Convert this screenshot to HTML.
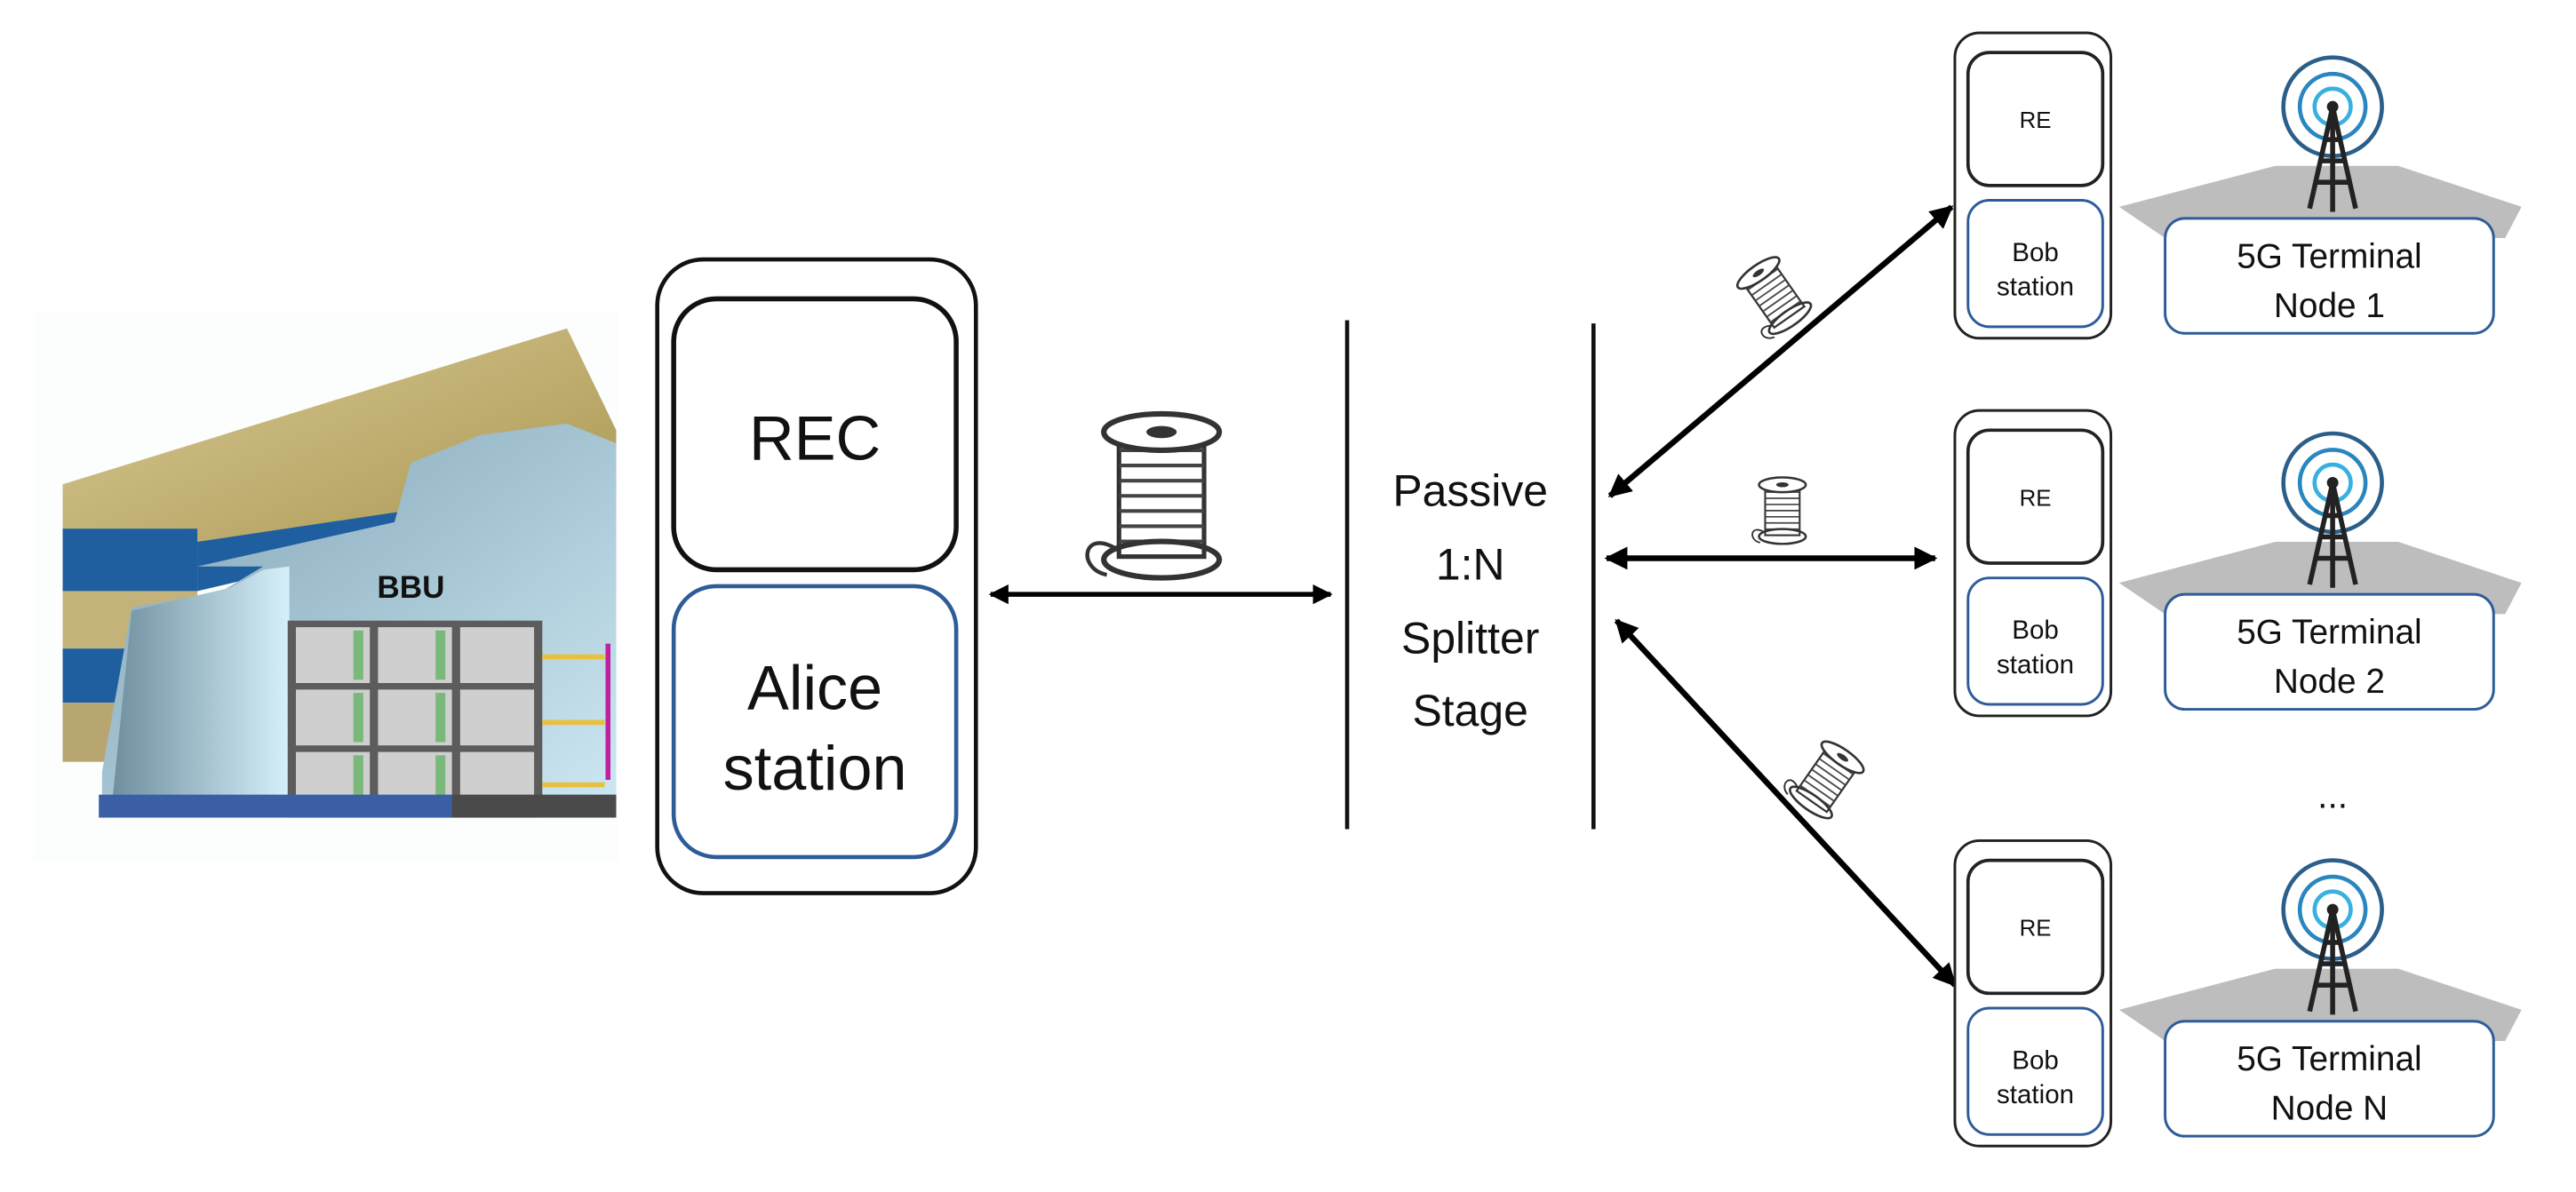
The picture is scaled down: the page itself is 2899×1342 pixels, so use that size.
<!DOCTYPE html>
<html><head><meta charset="utf-8"><style>html,body{margin:0;padding:0;background:#fff}svg{display:block}text{font-family:"Liberation Sans",sans-serif;text-anchor:middle;fill:#111}</style></head>
<body>
<svg width="2899" height="1342" viewBox="0 0 1568 726" xmlns="http://www.w3.org/2000/svg">
<defs>
<linearGradient id="gold" x1="0" y1="0" x2="1" y2="1"><stop offset="0" stop-color="#d9cb95"/><stop offset="1" stop-color="#a8944f"/></linearGradient>
<linearGradient id="lb" x1="0" y1="0" x2="1" y2="1"><stop offset="0" stop-color="#7fa2b4"/><stop offset="1" stop-color="#cde8f3"/></linearGradient>
<linearGradient id="lb2" x1="0" y1="0" x2="1" y2="0"><stop offset="0" stop-color="#6f8f9f"/><stop offset="1" stop-color="#d5f0fa"/></linearGradient>
<marker id="ah" viewBox="0 0 10 10" refX="9" refY="5" markerWidth="4" markerHeight="4" orient="auto-start-reverse"><path d="M0,0 L10,5 L0,10 z" fill="#000"/></marker>
<marker id="ah2" viewBox="0 0 10 10" refX="9" refY="5" markerWidth="4.5" markerHeight="4" orient="auto-start-reverse"><path d="M0,0 L10,5 L0,10 z" fill="#000"/></marker>
<g id="spool">
<rect x="-14" y="-20" width="28" height="40" fill="#fff" stroke="#333" stroke-width="1.5"/>
<g stroke="#444" stroke-width="1.2">
<line x1="-14" y1="-15" x2="14" y2="-15"/><line x1="-14" y1="-10" x2="14" y2="-10"/><line x1="-14" y1="-5" x2="14" y2="-5"/><line x1="-14" y1="0" x2="14" y2="0"/><line x1="-14" y1="5" x2="14" y2="5"/><line x1="-14" y1="10" x2="14" y2="10"/><line x1="-14" y1="15" x2="14" y2="15"/></g>
<ellipse cx="0" cy="-21" rx="19" ry="6" fill="#fff" stroke="#333" stroke-width="1.8"/>
<ellipse cx="0" cy="-21" rx="5" ry="2" fill="#333"/>
<ellipse cx="0" cy="21" rx="19" ry="6" fill="none" stroke="#333" stroke-width="1.8"/>
<path d="M-14,18 C-26,10 -28,24 -18,26" fill="none" stroke="#333" stroke-width="1.3"/>
</g>
<g id="unit">
<rect x="0" y="0" width="95" height="186" rx="15" fill="#fff" stroke="#222" stroke-width="1.6"/>
<rect x="8" y="12" width="82" height="81" rx="13" fill="#fff" stroke="#222" stroke-width="2"/>
<rect x="8" y="102" width="82" height="77" rx="13" fill="#fff" stroke="#2e5c99" stroke-width="1.6"/>
<text x="49" y="58" font-size="14">RE</text>
<text x="49" y="139" font-size="16">Bob</text>
<text x="49" y="160" font-size="16">station</text>
</g>
<g id="tower">
<circle r="30" fill="none" stroke="#2b5f8a" stroke-width="2.5"/>
<circle r="20" fill="none" stroke="#2a86bf" stroke-width="2.5"/>
<circle r="11" fill="none" stroke="#3ab0e0" stroke-width="2.5"/>
<circle r="3.5" fill="#222"/>
<g stroke="#222" stroke-width="3" fill="none">
<line x1="0" y1="0" x2="-14" y2="62"/><line x1="0" y1="0" x2="14" y2="62"/><line x1="0" y1="0" x2="0" y2="64"/>
<line x1="-5" y1="20" x2="5" y2="20"/><line x1="-8" y1="33" x2="8" y2="33"/><line x1="-11" y1="46" x2="11" y2="46"/></g>
</g>
</defs>

<!-- BBU -->
<rect x="20" y="190" width="356" height="335" fill="#fcfdfd"/>
<polygon points="38,295 345,200 375,262 375,292 120,345 38,322" fill="url(#gold)"/>
<rect x="38" y="322" width="82" height="38" fill="#1f5f9f"/>
<rect x="38" y="360" width="82" height="35" fill="#c3b27a"/>
<rect x="38" y="395" width="82" height="33" fill="#1f5f9f"/>
<rect x="38" y="428" width="82" height="36" fill="#b8a670"/>
<polygon points="120,330 375,292 375,300 120,360" fill="#1f5f9f"/>
<polygon points="120,345 240,318 250,282 292,265 345,258 375,270 375,495 62,495 62,470 80,370 135,360 160,345" fill="url(#lb)"/>
<polygon points="80,372 140,358 160,347 176,345 176,490 68,490" fill="url(#lb2)"/>
<rect x="175" y="378" width="155" height="120" fill="#5c5c5c"/>
<g fill="#cfcfcf">
<rect x="180" y="382" width="45" height="34"/><rect x="230" y="382" width="45" height="34"/><rect x="280" y="382" width="45" height="34"/>
<rect x="180" y="420" width="45" height="34"/><rect x="230" y="420" width="45" height="34"/><rect x="280" y="420" width="45" height="34"/>
<rect x="180" y="458" width="45" height="36"/><rect x="230" y="458" width="45" height="36"/><rect x="280" y="458" width="45" height="36"/></g>
<g fill="#7bb87b"><rect x="215" y="384" width="6" height="30"/><rect x="265" y="384" width="6" height="30"/><rect x="215" y="422" width="6" height="30"/><rect x="265" y="422" width="6" height="30"/><rect x="215" y="460" width="6" height="30"/><rect x="265" y="460" width="6" height="30"/></g>
<g stroke="#e8c040" stroke-width="3"><line x1="330" y1="400" x2="368" y2="400"/><line x1="330" y1="440" x2="368" y2="440"/><line x1="330" y1="478" x2="368" y2="478"/></g>
<path d="M370,392 L370,475" stroke="#c020a0" stroke-width="3"/>
<text x="250" y="364" font-size="19" font-weight="bold">BBU</text>
<polygon points="60,484 275,484 275,498 60,498" fill="#3b5fa5"/>
<polygon points="275,484 375,484 375,498 275,498" fill="#4a4a4a"/>

<!-- Alice -->
<rect x="400" y="158" width="194" height="386" rx="28" fill="#fff" stroke="#111" stroke-width="2.5"/>
<rect x="410" y="182" width="172" height="165" rx="26" fill="#fff" stroke="#111" stroke-width="3"/>
<rect x="410" y="357" width="172" height="165" rx="26" fill="#fff" stroke="#2e5c99" stroke-width="2.5"/>
<text x="496" y="280" font-size="38">REC</text>
<text x="496" y="432" font-size="38">Alice</text>
<text x="496" y="481" font-size="38">station</text>

<line x1="603" y1="362" x2="810" y2="362" stroke="#000" stroke-width="3" marker-start="url(#ah2)" marker-end="url(#ah2)"/>
<use href="#spool" transform="translate(707,302) scale(1.85)"/>

<line x1="820" y1="195" x2="820" y2="505" stroke="#111" stroke-width="2.5"/>
<line x1="970" y1="197" x2="970" y2="505" stroke="#111" stroke-width="2.5"/>
<text x="895" y="308" font-size="27">Passive</text>
<text x="895" y="353" font-size="27">1:N</text>
<text x="895" y="398" font-size="27">Splitter</text>
<text x="895" y="442" font-size="27">Stage</text>

<g stroke="#000" stroke-width="3.5">
<line x1="980" y1="302" x2="1188" y2="126" marker-start="url(#ah)" marker-end="url(#ah)"/>
<line x1="978" y1="340" x2="1178" y2="340" marker-start="url(#ah)" marker-end="url(#ah)"/>
<line x1="984" y1="378" x2="1190" y2="600" marker-start="url(#ah)" marker-end="url(#ah)"/>
</g>
<use href="#spool" transform="translate(1080,180) rotate(-35) scale(0.8)"/>
<use href="#spool" transform="translate(1085,311) scale(0.75)"/>
<use href="#spool" transform="translate(1112,475) rotate(35) scale(0.8)"/>

<use href="#unit" x="1190" y="20"/>
<use href="#unit" x="1190" y="250"/>
<use href="#unit" x="1190" y="512"/>

<g transform="translate(1318,133)">
<polygon points="-28,-7 67,-32 142,-32 217,-7 207,12 0,12" fill="#bdbdbd"/>
<use href="#tower" x="102" y="-68"/>
<rect x="0" y="0" width="200" height="70" rx="12" fill="#fff" stroke="#2e5c99" stroke-width="1.6"/>
<text x="100" y="30" font-size="21">5G Terminal</text><text x="100" y="60" font-size="21">Node 1</text>
</g>
<g transform="translate(1318,362)">
<polygon points="-28,-7 67,-32 142,-32 217,-7 207,12 0,12" fill="#bdbdbd"/>
<use href="#tower" x="102" y="-68"/>
<rect x="0" y="0" width="200" height="70" rx="12" fill="#fff" stroke="#2e5c99" stroke-width="1.6"/>
<text x="100" y="30" font-size="21">5G Terminal</text><text x="100" y="60" font-size="21">Node 2</text>
</g>
<g transform="translate(1318,622)">
<polygon points="-28,-7 67,-32 142,-32 217,-7 207,12 0,12" fill="#bdbdbd"/>
<use href="#tower" x="102" y="-68"/>
<rect x="0" y="0" width="200" height="70" rx="12" fill="#fff" stroke="#2e5c99" stroke-width="1.6"/>
<text x="100" y="30" font-size="21">5G Terminal</text><text x="100" y="60" font-size="21">Node N</text>
</g>
<text x="1420" y="492" font-size="22">...</text>
</svg>
</body></html>
